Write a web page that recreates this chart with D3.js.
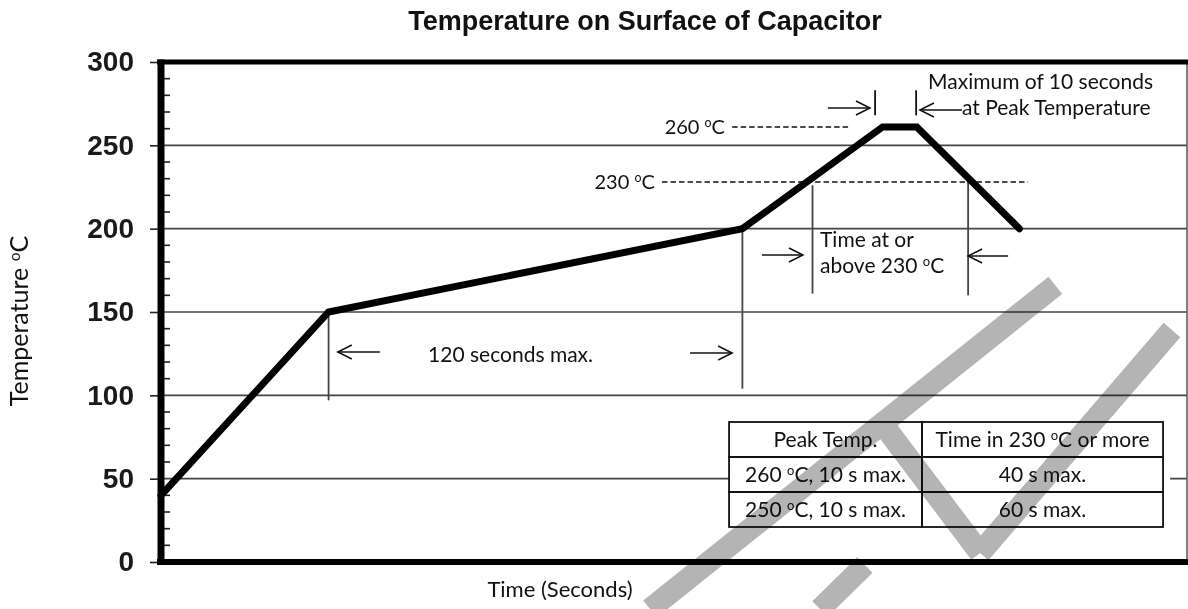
<!DOCTYPE html>
<html><head><meta charset="utf-8">
<script src="https://cdn.jsdelivr.net/npm/d3@7/dist/d3.min.js"></script>
<style>body{margin:0;background:#fff}svg{display:block}</style>
</head><body>
<svg id="chart" width="1188" height="609"></svg>
<script>
// ---- data ----
const profileTime = [0, 49, 170, 211, 221, 251];
const profileTemp = [40, 150, 200, 261, 261, 200];
const yTickValues = [0, 50, 100, 150, 200, 250, 300];
const gridValues = [50, 100, 150, 200, 250];
const minorTickValues = [10,20,30,40,60,70,80,90,110,120,130,140,160,170,180,190,210,220,230,240,260,270,280,290];
const tableHeader = ["Peak Temp.", "Time in 230 ºC or more"];
const tableRows = [["260 ºC, 10 s max.", "40 s max."], ["250 ºC, 10 s max.", "60 s max."]];
// reference levels
const levelLabels = ["260 ºC", "230 ºC"];
const levelTemps = [261, 228];
const levelLabelEnd = [164.9, 144.4];
const levelDashStart = [167, 146.5];
const levelDashEnd = [200.9, 253.5];
// guide lines: time, fromTemp, toTemp
const guideTime = [49, 170, 190.5, 236, 208.8, 220.8];
const guideFrom = [150, 200, 226, 230.5, 283, 283];
const guideTo = [97, 104, 161, 160, 268, 268];
// arrows: tail time, head time, temp
const arrowTail = [195, 234.2, 64, 154.7, 175.7, 247.7];
const arrowHead = [207.3, 221.9, 51.7, 167, 187.7, 236];
const arrowTemp = [272.4, 271.2, 126, 125.4, 184.2, 183.6];
// notes: text, start time, baseline temp
const noteText = ["Maximum of 10 seconds", "at Peak Temperature", "120 seconds max.", "Time at or", "above 230 ºC"];
const noteTime = [224.3, 234.2, 78.1, 192.7, 192.7];
const noteTemp = [283.8, 268.2, 120, 189, 173.4];
// watermark strokes (time, temp pairs)
const watermark = [
  [[261.5, 166], [143, -28.2]],
  [[209.7, 86.4], [239.5, 5.4]],
  [[239.5, 5.4], [295.6, 139.2]],
  [[192.7, -28.2], [205.8, -1.8]]
];

// ---- layout ----
const svg = d3.select("#chart");
const pLeft = 161, pRight = 1187, pTop = 62, pBottom = 562;
const x = d3.scaleLinear().domain([0, 300]).range([pLeft, pRight]);
const y = d3.scaleLinear().domain([0, 300]).range([pBottom, pTop]);
const annoFont = "Lato, 'Open Sans', sans-serif";
const boldFont = "Arial, 'Liberation Sans', sans-serif";

function rich(sel, str, fs) {
  const parts = str.split("º");
  parts.forEach((p, i) => {
    if (i > 0) {
      sel.append("tspan").attr("font-size", fs * 0.62).attr("dy", -fs * 0.34).text("o");
      sel.append("tspan").attr("dy", fs * 0.34).text(p);
    } else sel.append("tspan").text(p);
  });
}

// title
svg.append("text").attr("x", 645).attr("y", 30).attr("text-anchor", "middle")
  .attr("font-family", boldFont).attr("font-weight", "bold").attr("font-size", 27)
  .attr("fill", "#111").text("Temperature on Surface of Capacitor");

// gridlines
svg.append("g").selectAll("line").data(gridValues).join("line")
  .attr("x1", pLeft).attr("x2", pRight).attr("y1", d => y(d)).attr("y2", d => y(d))
  .attr("stroke", "#444").attr("stroke-width", 1.6);

// right border
svg.append("line").attr("x1", pRight).attr("x2", pRight).attr("y1", pTop).attr("y2", pBottom)
  .attr("stroke", "#555").attr("stroke-width", 1.5);

// y axis with major ticks outward
const yAxis = d3.axisLeft(y).tickValues(yTickValues).tickSize(8).tickPadding(16).tickFormat(d3.format("d"));
const ga = svg.append("g").attr("transform", `translate(${pLeft - 3},0)`).call(yAxis);
ga.select(".domain").remove();
ga.selectAll(".tick line").attr("stroke", "#222").attr("stroke-width", 1.6);
ga.selectAll(".tick text").attr("font-family", boldFont).attr("font-weight", "bold")
  .attr("font-size", 28).attr("fill", "#1a1a1a");
// minor ticks inward
svg.append("g").selectAll("line").data(minorTickValues).join("line")
  .attr("x1", pLeft + 3).attr("x2", pLeft + 9).attr("y1", d => y(d)).attr("y2", d => y(d))
  .attr("stroke", "#222").attr("stroke-width", 1.6);

// thick frame
svg.append("line").attr("x1", pLeft - 4).attr("x2", 1188).attr("y1", pTop).attr("y2", pTop)
  .attr("stroke", "#000").attr("stroke-width", 5);
svg.append("line").attr("x1", pLeft - 4).attr("x2", 1188).attr("y1", pBottom).attr("y2", pBottom)
  .attr("stroke", "#000").attr("stroke-width", 6);
svg.append("line").attr("x1", pLeft).attr("x2", pLeft).attr("y1", pTop - 2.5).attr("y2", pBottom + 3)
  .attr("stroke", "#000").attr("stroke-width", 7);

// dashed level lines + labels
levelTemps.forEach((t, i) => {
  svg.append("line").attr("x1", x(levelDashStart[i])).attr("x2", x(levelDashEnd[i]))
    .attr("y1", y(t)).attr("y2", y(t)).attr("stroke", "#111").attr("stroke-width", 1.3)
    .attr("stroke-dasharray", "5.5,3");
  const tx = svg.append("text").attr("x", x(levelLabelEnd[i])).attr("y", y(t) + 7)
    .attr("text-anchor", "end").attr("font-family", annoFont).attr("font-size", 20).attr("fill", "#111");
  rich(tx, levelLabels[i], 20);
});

// guide lines
guideTime.forEach((t, i) => {
  svg.append("line").attr("x1", x(t)).attr("x2", x(t)).attr("y1", y(guideFrom[i])).attr("y2", y(guideTo[i]))
    .attr("stroke", i >= 4 ? "#111" : "#444").attr("stroke-width", 1.8);
});

// profile curve
const line = d3.line().x(d => x(d[0])).y(d => y(d[1]));
svg.append("path").datum(profileTime.map((t, i) => [t, profileTemp[i]]))
  .attr("d", line).attr("fill", "none").attr("stroke", "#000").attr("stroke-width", 7)
  .attr("stroke-linejoin", "miter").attr("stroke-linecap", "round");

// arrows
arrowTail.forEach((t, i) => {
  const x0 = x(t), x1 = x(arrowHead[i]), yy = y(arrowTemp[i]);
  const dir = x1 > x0 ? 1 : -1;
  const g = svg.append("g").attr("stroke", "#111").attr("stroke-width", 1.5).attr("fill", "none");
  g.append("line").attr("x1", x0).attr("x2", x1).attr("y1", yy).attr("y2", yy);
  g.append("path").attr("d", `M${x1 - dir * 14},${yy - 7}L${x1},${yy}L${x1 - dir * 14},${yy + 7}`);
});

// notes
noteText.forEach((s, i) => {
  const tx = svg.append("text").attr("x", x(noteTime[i])).attr("y", y(noteTemp[i]))
    .attr("font-family", annoFont).attr("font-size", 21).attr("fill", "#111");
  rich(tx, s, 21);
});

// table
const tX0 = x(166.1), tX1 = x(293), tXm = x(222.5);
const tY0 = y(84);
const rowH = 35;
const allRows = [tableHeader].concat(tableRows);
const tg = svg.append("g");
tg.append("rect").attr("x", tX0).attr("y", tY0 - 6).attr("width", tX1 - tX0 + 7).attr("height", rowH * 3 + 12).attr("fill", "#fff");
allRows.forEach((row, r) => {
  row.forEach((cell, c) => {
    const cx0 = c === 0 ? tX0 : tXm, cx1 = c === 0 ? tXm : tX1;
    tg.append("rect").attr("x", cx0).attr("y", tY0 + r * rowH).attr("width", cx1 - cx0).attr("height", rowH)
      .attr("fill", "none").attr("stroke", "#111").attr("stroke-width", 1.8);
    const tx = tg.append("text").attr("x", (cx0 + cx1) / 2).attr("y", tY0 + r * rowH + 25)
      .attr("text-anchor", "middle").attr("font-family", annoFont).attr("font-size", 21).attr("fill", "#111");
    rich(tx, cell, 21);
  });
});

// axis titles
const yt = svg.append("text").attr("transform", "translate(28,321) rotate(-90)").attr("text-anchor", "middle")
  .attr("font-family", annoFont).attr("font-size", 25).attr("fill", "#111");
rich(yt, "Temperature ºC", 25);
svg.append("text").attr("x", 560).attr("y", 597).attr("text-anchor", "middle")
  .attr("font-family", annoFont).attr("font-size", 22).attr("fill", "#111").text("Time (Seconds)");

// watermark
const wm = svg.append("g").style("mix-blend-mode", "multiply");
watermark.forEach(seg => {
  wm.append("line").attr("x1", x(seg[0][0])).attr("y1", y(seg[0][1]))
    .attr("x2", x(seg[1][0])).attr("y2", y(seg[1][1]))
    .attr("stroke", "#b4b4b4").attr("stroke-width", 22);
});
</script>
</body></html>
